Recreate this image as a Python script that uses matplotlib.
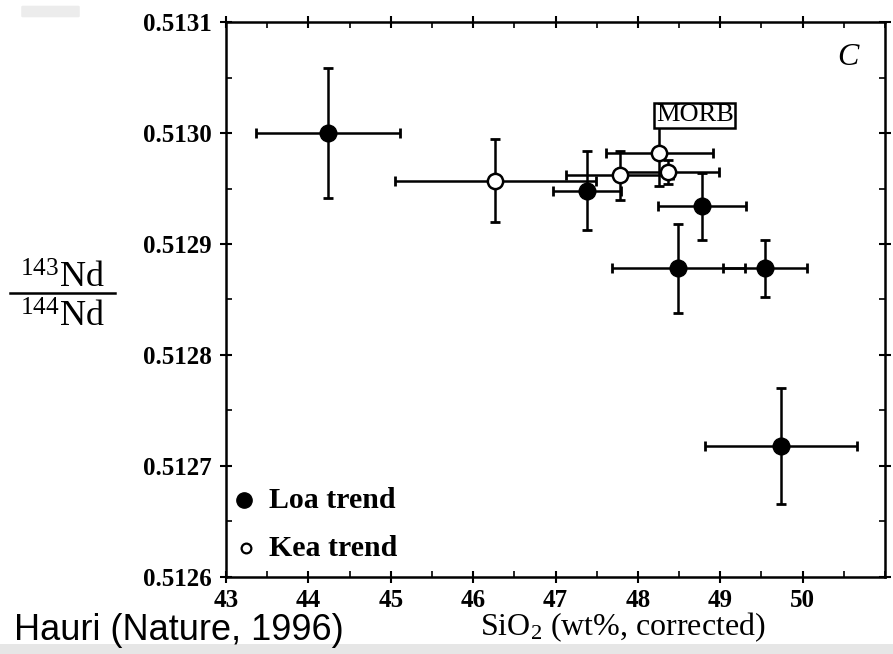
import matplotlib
matplotlib.use("Agg")
import matplotlib.pyplot as plt
from matplotlib.ticker import MultipleLocator, FixedLocator
from matplotlib.patches import FancyBboxPatch, Rectangle

# ---- data ----
loa_x = [44.24, 47.38, 48.78, 48.49, 49.54, 49.74]
loa_y = [0.51300, 0.512948, 0.512934, 0.512878, 0.512878, 0.512718]
loa_xerr = [0.87, 0.41, 0.53, 0.81, 0.51, 0.92]
loa_yerr = [0.000059, 0.0000355, 0.00003, 0.00004, 0.000026, 0.000052]

kea_x = [46.27, 47.78, 48.26, 48.37]
kea_y = [0.512957, 0.512962, 0.512982, 0.512965]
kea_xerr = [1.22, 0.65, 0.65, 0.61]
kea_yerr = [0.0000375, 0.000022, 0.00003, 0.000011]

x_ticks = [43, 44, 45, 46, 47, 48, 49, 50]
y_ticks = [0.5126, 0.5127, 0.5128, 0.5129, 0.5130, 0.5131]
y_tick_labels = ["0.5126", "0.5127", "0.5128", "0.5129", "0.5130", "0.5131"]

plt.rcParams['font.family'] = ['Liberation Serif', 'DejaVu Serif']
plt.rcParams['mathtext.fontset'] = 'custom'
plt.rcParams['mathtext.rm'] = 'Liberation Serif'
plt.rcParams['mathtext.it'] = 'Liberation Serif:italic'
plt.rcParams['mathtext.bf'] = 'Liberation Serif:bold'

W, H = 893, 654
fig = plt.figure(figsize=(W / 100, H / 100), dpi=100)
ax = fig.add_axes([226 / W, 1 - 577 / H, (885 - 226) / W, (577 - 22) / H])

ax.set_xlim(43, 51)
ax.set_ylim(0.5126, 0.5131)

ekw = dict(fmt='none', ecolor='black', elinewidth=1.8, capsize=3.5, capthick=2.0, zorder=2)
ax.errorbar(loa_x, loa_y, xerr=loa_xerr, yerr=loa_yerr, **ekw)
ax.errorbar(kea_x, kea_y, xerr=kea_xerr, yerr=kea_yerr, **ekw)
ax.plot(loa_x, loa_y, 'o', color='black', markersize=12, zorder=3)
ax.plot(kea_x, kea_y, 'o', markerfacecolor='white', markeredgecolor='black',
        markeredgewidth=1.8, markersize=11, zorder=4)

# MORB box
ax.text(48.69, 0.513016, "MORB", ha='center', va='center', fontsize=19,
        bbox=dict(boxstyle='square,pad=0.06', facecolor='white', edgecolor='black', linewidth=1.8),
        zorder=5)
# panel label
ax.text(50.55, 0.513068, "C", ha='center', va='center', fontsize=23, style='italic')

# legend (manual)
ax.plot([43.22], [0.512669], 'o', color='black', markersize=11, clip_on=False)
ax.text(43.52, 0.512669, "Loa trend", ha='left', va='center', fontsize=21.5, fontweight='bold')
ax.plot([43.24], [0.512626], 'o', markerfacecolor='white', markeredgecolor='black',
        markeredgewidth=1.6, markersize=7, clip_on=False)
ax.text(43.52, 0.512626, "Kea trend", ha='left', va='center', fontsize=21.5, fontweight='bold')

# ticks
ax.xaxis.set_major_locator(FixedLocator(x_ticks))
ax.xaxis.set_minor_locator(MultipleLocator(0.5))
ax.yaxis.set_major_locator(FixedLocator(y_ticks))
ax.yaxis.set_minor_locator(MultipleLocator(0.00005))
ax.set_yticklabels(y_tick_labels)
ax.set_xticklabels([str(v) for v in x_ticks])
ax.tick_params(axis='both', which='major', direction='inout', length=9, width=1.5,
               labelsize=18, top=True, right=True)
ax.tick_params(axis='y', which='major', pad=6)
ax.tick_params(axis='x', which='major', pad=4)
ax.tick_params(axis='both', which='minor', direction='in', length=4, width=1.2,
               top=True, right=True)
for lbl in ax.get_xticklabels() + ax.get_yticklabels():
    lbl.set_fontweight('bold')
for sp in ax.spines.values():
    sp.set_linewidth(1.8)

# axis labels
fig.text(623 / W, 1 - 627 / H, r"SiO$_2$ (wt%, corrected)", ha='center', va='center', fontsize=23)
fig.text(62 / W, 1 - 279 / H, r"$^{143}$Nd", ha='center', va='center', fontsize=26)
fig.text(62 / W, 1 - 318 / H, r"$^{144}$Nd", ha='center', va='center', fontsize=26)
fig.add_artist(plt.Line2D([10 / W, 115 / W], [1 - 293 / H, 1 - 293 / H], color='black', linewidth=1.8))

# source note
fig.text(14 / W, 1 - 631 / H, "Hauri (Nature, 1996)", ha='left', va='center', fontsize=26,
         family=['Liberation Sans', 'DejaVu Sans'])

# decorative gray strip at the bottom and tab at top-left
fig.add_artist(Rectangle((0, 0), 1, 10 / H, transform=fig.transFigure, facecolor='#e6e6e6',
                         edgecolor='none'))
fig.add_artist(FancyBboxPatch((23 / W, 1 - 16 / H), 55 / W, 9 / H, boxstyle='round,pad=0.002',
                              transform=fig.transFigure, facecolor='#ececec', edgecolor='none'))

fig.savefig("out.png", dpi=100)
